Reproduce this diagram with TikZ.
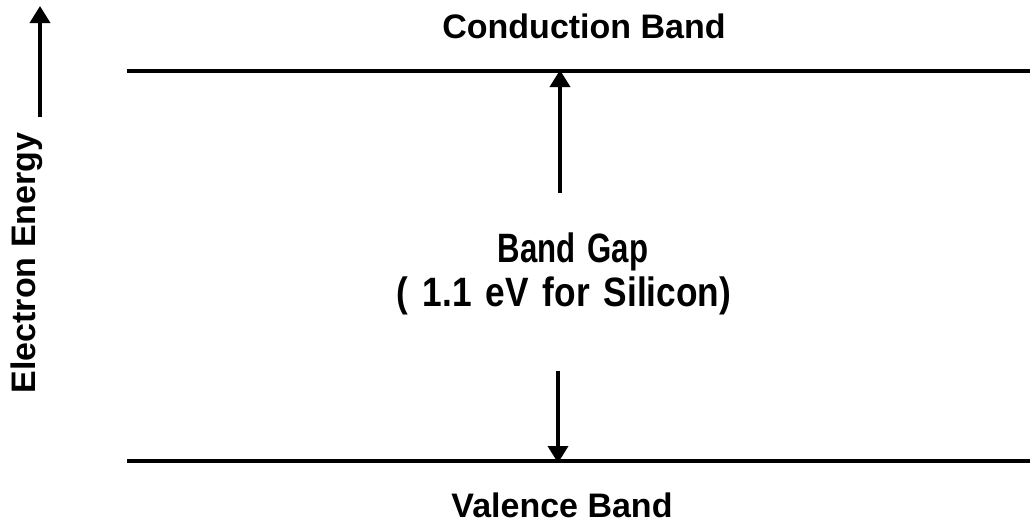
\documentclass[tikz,border=0pt]{standalone}
\usepackage{fontspec}
\setmainfont{Liberation Sans}
\usetikzlibrary{arrows.meta}
\begin{document}
\begin{tikzpicture}[x=1pt,y=-1pt,
  band/.style={line width=3.6pt},
  gaparrow/.style={line width=3.6pt,-{Triangle[length=17pt,width=20pt]}},
  lbl/.style={font=\fontsize{34}{38}\selectfont\bfseries,anchor=base,inner sep=0pt},
  biglbl/.style={font=\fontsize{41}{46}\selectfont\bfseries,anchor=base,inner sep=0pt}]
\useasboundingbox (0,0) rectangle (1030,528);
% band lines
\coordinate (cbL) at (127,71);
\coordinate (cbR) at (1030,71);
\coordinate (vbL) at (127,461);
\coordinate (vbR) at (1030,461);
\draw[band] (cbL) -- (cbR);
\draw[band] (vbL) -- (vbR);
% labels
\node[lbl] (cb) at (584,38) {Conduction Band};
\node[biglbl] (bg) at (573,262) {\addfontfeature{FakeStretch=0.76}\spaceskip=12pt plus 0pt Band Gap};
\node[biglbl] (si) at (564,306) {\addfontfeature{FakeStretch=0.86}\spaceskip=14pt plus 0pt( 1.1 eV for Silicon)};
\node[lbl] (vb) at (562,517) {Valence Band};
% gap arrows
\coordinate (upS) at (560,193);
\coordinate (upE) at (560,70);
\coordinate (dnS) at (558,371);
\coordinate (dnE) at (558,463);
\draw[gaparrow] (upS) -- (upE);
\draw[gaparrow] (dnS) -- (dnE);
% energy axis
\node[lbl,rotate=90] (ee) at (35,263) {Electron Energy};
\coordinate (axS) at (40,117);
\coordinate (axE) at (40,6);
\draw[gaparrow] (axS) -- (axE);
\end{tikzpicture}
\end{document}
